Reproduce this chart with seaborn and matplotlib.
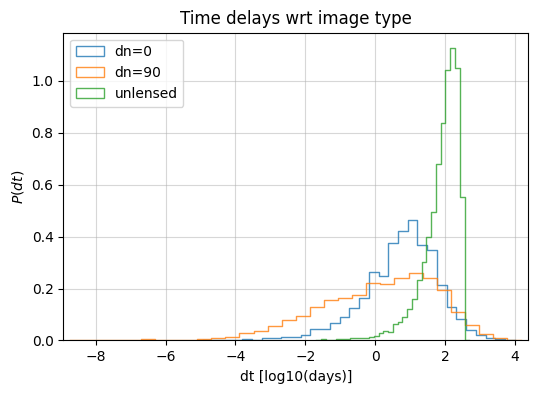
import numpy as np
import pandas as pd
import matplotlib
matplotlib.use("Agg")
import matplotlib.pyplot as plt
from matplotlib.patches import Patch
import seaborn as sns

# ---- data ----
labels = ["dn=0", "dn=90", "unlensed"]

# bin ranges (log10 days) and per-bin density values
dn0_range = (-4.64, 3.72)
dn0_heights = [0.003, 0.0, 0.003, 0.006, 0.0, 0.008, 0.008, 0.015, 0.015, 0.020,
               0.045, 0.045, 0.066, 0.091, 0.124, 0.162, 0.265, 0.247, 0.376, 0.421,
               0.465, 0.369, 0.350, 0.215, 0.127, 0.081, 0.040, 0.021, 0.008, 0.005]

dn90_range = (-8.32, 3.78)
dn90_heights = [0.001, 0.0, 0.0, 0.0, 0.004, 0.0, 0.003, 0.003, 0.004, 0.010,
                0.015, 0.030, 0.036, 0.056, 0.079, 0.093, 0.127, 0.155, 0.165, 0.176,
                0.221, 0.219, 0.240, 0.261, 0.242, 0.193, 0.110, 0.060, 0.025, 0.008]

unl_range = (-1.543, 2.56)
unl_heights = [0.004, 0.002, 0.0, 0.004, 0.004, 0.005, 0.008, 0.008, 0.010, 0.011,
               0.014, 0.019, 0.028, 0.038, 0.034, 0.063, 0.072, 0.091, 0.123, 0.159,
               0.232, 0.302, 0.400, 0.494, 0.679, 0.836, 1.039, 1.125, 1.047, 0.554]

series = [(dn0_range, dn0_heights), (dn90_range, dn90_heights), (unl_range, unl_heights)]
colors = ["#1f77b4", "#ff7f0e", "#2ca02c"]

fig, ax = plt.subplots(figsize=(5.38, 3.93), dpi=100)
fig.subplots_adjust(left=0.1177, right=0.982, top=0.9168, bottom=0.1336)

for (rng, h), lab, col in zip(series, labels, colors):
    h = np.asarray(h, dtype=float)
    n = len(h)
    width = (rng[1] - rng[0]) / n
    # pad with one empty bin on each side so the outline drops to zero at both ends
    h_pad = np.concatenate([[0.0], h, [0.0]])
    rng_pad = (rng[0] - width, rng[1] + width)
    edges = np.linspace(rng_pad[0], rng_pad[1], n + 3)
    centers = 0.5 * (edges[:-1] + edges[1:])
    df = pd.DataFrame({"x": centers, "w": h_pad})
    sns.histplot(data=df, x="x", weights="w", bins=n + 2, binrange=rng_pad,
                 stat="count", element="step", fill=False, color=col,
                 alpha=0.8, linewidth=1.0, ax=ax)

# axis limits as matplotlib would autoscale the unpadded data range
lo = min(r[0] for r, _ in series)
hi = max(r[1] for r, _ in series)
span = hi - lo
ax.set_xlim(lo - 0.05 * span, hi + 0.05 * span)
ax.set_ylim(0, 1.05 * max(max(h) for _, h in series) + 0.003)
ax.grid(alpha=0.5)
ax.set_axisbelow(True)
ax.set_title("Time delays wrt image type")
ax.set_xlabel("dt [log10(days)]")
ax.set_ylabel("$P(dt)$")

handles = [Patch(facecolor="none", edgecolor=c, alpha=0.8, linewidth=1.0) for c in colors]
ax.legend(handles, labels, loc="upper left")

fig.savefig("out.png", dpi=100)
